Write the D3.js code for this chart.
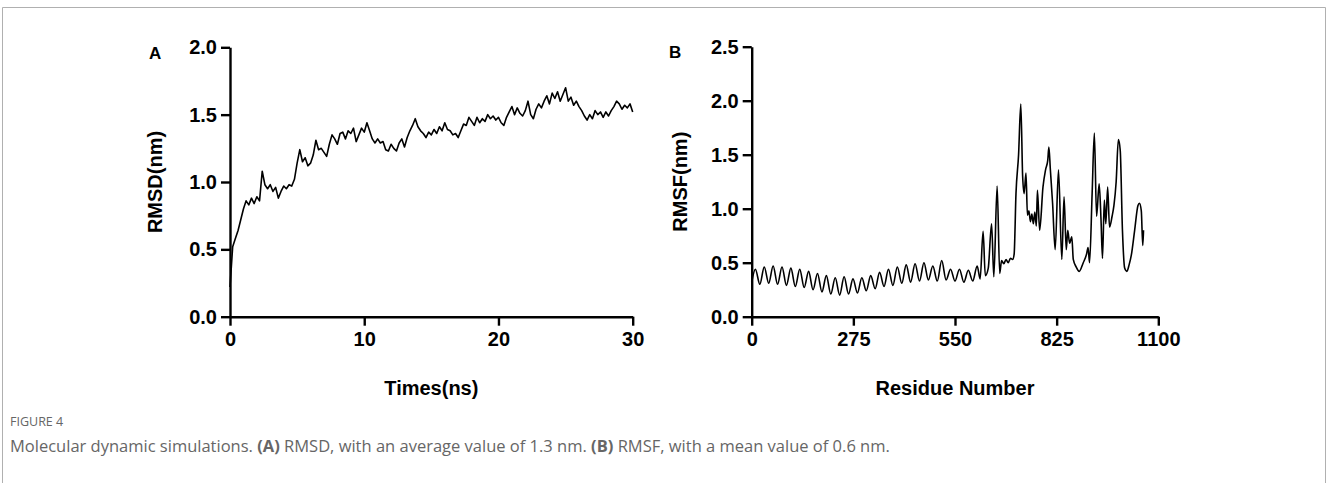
<!DOCTYPE html>
<html>
<head>
<meta charset="utf-8">
<script src="https://cdn.jsdelivr.net/npm/d3@7"></script>
<style>
    body { margin: 0; background: #fff; }
    .tick text { font-family: "Liberation Sans", Arial, sans-serif; font-weight: bold; font-size: 20px; fill: #000; }
    .axis path, .axis line { stroke: #000; stroke-width: 2.4; }
    .axisTitle { font-family: "Liberation Sans", Arial, sans-serif; font-weight: bold; font-size: 20px; }
    .panelLetter { font-family: "Liberation Sans", Arial, sans-serif; font-weight: bold; font-size: 17px; }
    .caption { font-family: "Open Sans", sans-serif; fill: #666; }
</style>
</head>
<body>
<div id="chart"></div>
<script>
// RMSD (nm), sampled every 0.2 ns from 0 to 30 ns
const rmsdStep = 0.2;
const rmsd = [
    0.22, 0.52, 0.58, 0.64, 0.72, 0.80, 0.86, 0.83, 0.88, 0.84,
    0.89, 0.86, 1.08, 0.98, 0.95, 0.98, 0.93, 0.96, 0.88, 0.93,
    0.97, 0.95, 0.98, 0.97, 1.02, 1.14, 1.24, 1.15, 1.18, 1.12,
    1.14, 1.20, 1.31, 1.24, 1.25, 1.22, 1.19, 1.28, 1.35, 1.32,
    1.28, 1.36, 1.37, 1.32, 1.38, 1.36, 1.40, 1.30, 1.35, 1.40,
    1.37, 1.44, 1.38, 1.32, 1.29, 1.32, 1.29, 1.30, 1.24, 1.23,
    1.28, 1.25, 1.23, 1.29, 1.32, 1.26, 1.33, 1.38, 1.42, 1.47,
    1.41, 1.38, 1.36, 1.33, 1.37, 1.35, 1.39, 1.36, 1.41, 1.38,
    1.44, 1.39, 1.38, 1.35, 1.36, 1.33, 1.38, 1.43, 1.42, 1.48,
    1.45, 1.42, 1.48, 1.44, 1.47, 1.45, 1.50, 1.47, 1.49, 1.46,
    1.48, 1.44, 1.42, 1.48, 1.52, 1.56, 1.50, 1.55, 1.51, 1.49,
    1.53, 1.60, 1.50, 1.47, 1.54, 1.58, 1.55, 1.60, 1.64, 1.58,
    1.66, 1.62, 1.67, 1.60, 1.65, 1.70, 1.60, 1.63, 1.57, 1.60,
    1.56, 1.53, 1.49, 1.46, 1.50, 1.47, 1.53, 1.50, 1.52, 1.48,
    1.52, 1.49, 1.53, 1.56, 1.60, 1.58, 1.54, 1.57, 1.55, 1.58,
    1.52
];

// RMSF (nm) by residue number
const residues = [
    0, 10, 22, 34, 46, 58, 70, 82, 94, 106,
    118, 130, 142, 154, 166, 178, 190, 202, 214, 226,
    238, 250, 262, 274, 286, 298, 310, 322, 334, 346,
    358, 370, 382, 394, 406, 418, 430, 442, 454, 466,
    478, 490, 502, 514, 526, 538, 550, 562, 574, 586,
    598, 610, 618, 626, 632, 640, 649, 655, 664, 671,
    676, 682, 688, 694, 700, 706, 710, 715, 722, 728,
    733, 737, 742, 746, 750, 754, 758, 762, 766, 770,
    773, 779, 788, 795, 801, 804, 808, 814, 821, 830,
    839, 845, 851, 855, 860, 866, 870, 878, 886, 897,
    906, 910, 914, 921, 927, 933, 940, 945, 949, 954,
    958, 963, 968, 975, 980, 986, 992, 997, 1003, 1009,
    1015, 1021, 1027, 1036, 1045, 1049, 1054, 1058, 1060
];
const rmsf = [
    0.32, 0.44, 0.30, 0.46, 0.31, 0.47, 0.30, 0.46, 0.29, 0.45,
    0.28, 0.44, 0.27, 0.42, 0.25, 0.40, 0.23, 0.38, 0.21, 0.36,
    0.20, 0.37, 0.21, 0.35, 0.22, 0.36, 0.24, 0.38, 0.26, 0.41,
    0.28, 0.44, 0.29, 0.46, 0.31, 0.48, 0.32, 0.49, 0.33, 0.50,
    0.34, 0.47, 0.33, 0.52, 0.34, 0.44, 0.33, 0.44, 0.32, 0.43,
    0.33, 0.47, 0.35, 0.79, 0.38, 0.45, 0.86, 0.37, 1.21, 0.40,
    0.52, 0.49, 0.53, 0.50, 0.54, 0.53, 0.58, 1.14, 1.50, 1.97,
    1.30, 1.14, 1.33, 0.94, 0.98, 0.88, 0.95, 0.86, 0.97, 0.84,
    1.17, 0.80, 1.20, 1.36, 1.45, 1.57, 1.36, 1.05, 0.62, 1.36,
    0.53, 1.11, 0.62, 0.80, 0.68, 0.74, 0.53, 0.46, 0.42, 0.50,
    0.58, 0.64, 0.50, 1.14, 1.70, 0.93, 1.23, 0.90, 0.54, 1.08,
    0.86, 1.20, 0.83, 0.93, 1.03, 1.25, 1.64, 1.54, 0.80, 0.45,
    0.42, 0.48, 0.57, 0.80, 1.03, 1.05, 0.98, 0.66, 0.80
];

const rmsdTicksY = [0, 0.5, 1.0, 1.5, 2.0];
const rmsdTicksX = [0, 10, 20, 30];
const rmsfTicksY = [0, 0.5, 1.0, 1.5, 2.0, 2.5];
const rmsfTicksX = [0, 275, 550, 825, 1100];

const width = 1328;
const height = 483;

const svg = d3.select("#chart")
    .append("svg")
    .attr("width", width)
    .attr("height", height);

// page frame (open at the bottom)
svg.append("path")
    .attr("d", `M2.5,${height + 5} V7.5 H1325.5 V${height + 5}`)
    .attr("fill", "none")
    .attr("stroke", "#b0b0b0")
    .attr("stroke-width", 1);

/*
PANEL A - RMSD
*/
const xA = d3.scaleLinear().domain([0, 30]).range([230, 632.7]);
const yA = d3.scaleLinear().domain([0, 2]).range([316.7, 47.3]);

svg.append("g")
    .attr("class", "axis")
    .attr("transform", `translate(0,${yA(0)})`)
    .call(d3.axisBottom(xA).tickValues(rmsdTicksX).tickSize(9).tickSizeOuter(0).tickPadding(6).tickFormat(d3.format("d")));

svg.append("g")
    .attr("class", "axis")
    .attr("transform", `translate(${xA(0)},0)`)
    .call(d3.axisLeft(yA).tickValues(rmsdTicksY).tickSize(9).tickSizeOuter(0).tickPadding(4).tickFormat(d3.format(".1f")));

const lineA = d3.line()
    .x((d, i) => xA(i * rmsdStep))
    .y(d => yA(d));

svg.append("path")
    .datum(rmsd)
    .attr("d", lineA)
    .attr("fill", "none")
    .attr("stroke", "#000")
    .attr("stroke-width", 1.6)
    .attr("stroke-linejoin", "round");

svg.append("text")
    .attr("class", "axisTitle")
    .attr("x", (xA(0) + xA(30)) / 2)
    .attr("y", 395)
    .attr("text-anchor", "middle")
    .text("Times(ns)");

svg.append("text")
    .attr("class", "axisTitle")
    .attr("transform", `translate(162,${(yA(0) + yA(2)) / 2}) rotate(-90)`)
    .attr("text-anchor", "middle")
    .text("RMSD(nm)");

svg.append("text")
    .attr("class", "panelLetter")
    .attr("x", 149)
    .attr("y", 59)
    .text("A");

/*
PANEL B - RMSF
*/
const xB = d3.scaleLinear().domain([0, 1100]).range([751.7, 1158.3]);
const yB = d3.scaleLinear().domain([0, 2.5]).range([316.7, 46.7]);

svg.append("g")
    .attr("class", "axis")
    .attr("transform", `translate(0,${yB(0)})`)
    .call(d3.axisBottom(xB).tickValues(rmsfTicksX).tickSize(9).tickSizeOuter(0).tickPadding(6).tickFormat(d3.format("d")));

svg.append("g")
    .attr("class", "axis")
    .attr("transform", `translate(${xB(0)},0)`)
    .call(d3.axisLeft(yB).tickValues(rmsfTicksY).tickSize(9).tickSizeOuter(0).tickPadding(4).tickFormat(d3.format(".1f")));

// monotone curve rounds the residue oscillations but keeps the spike tops
const lineB = d3.line()
    .x((d, i) => xB(residues[i]))
    .y(d => yB(d))
    .curve(d3.curveMonotoneX);

svg.append("path")
    .datum(rmsf)
    .attr("d", lineB)
    .attr("fill", "none")
    .attr("stroke", "#000")
    .attr("stroke-width", 1.6)
    .attr("stroke-linejoin", "round");

svg.append("text")
    .attr("class", "axisTitle")
    .attr("x", (xB(0) + xB(1100)) / 2)
    .attr("y", 395)
    .attr("text-anchor", "middle")
    .text("Residue Number");

svg.append("text")
    .attr("class", "axisTitle")
    .attr("transform", `translate(687,${(yB(0) + yB(2.5)) / 2}) rotate(-90)`)
    .attr("text-anchor", "middle")
    .text("RMSF(nm)");

svg.append("text")
    .attr("class", "panelLetter")
    .attr("x", 669)
    .attr("y", 58)
    .text("B");

/*
CAPTION
*/
svg.append("text")
    .attr("class", "caption")
    .attr("x", 10)
    .attr("y", 426)
    .attr("font-size", 12.5)
    .attr("fill", "#888")
    .text("FIGURE 4");

const cap = svg.append("text")
    .attr("class", "caption")
    .attr("x", 10)
    .attr("y", 452)
    .attr("font-size", 16.5);

cap.append("tspan").text("Molecular dynamic simulations. ");
cap.append("tspan").attr("font-weight", "bold").text("(A)");
cap.append("tspan").text(" RMSD, with an average value of 1.3 nm. ");
cap.append("tspan").attr("font-weight", "bold").text("(B)");
cap.append("tspan").text(" RMSF, with a mean value of 0.6 nm.");
</script>
</body>
</html>
